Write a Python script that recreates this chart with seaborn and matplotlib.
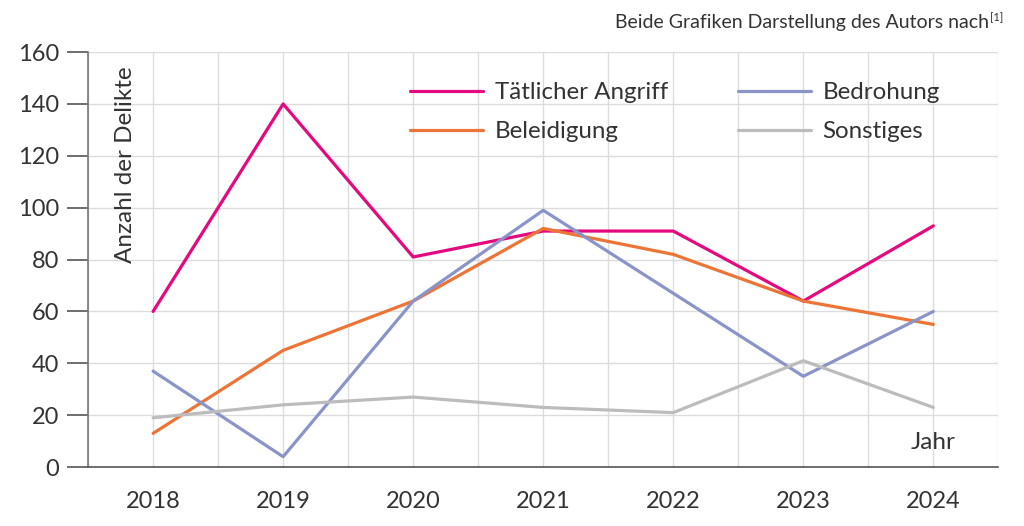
import matplotlib

matplotlib.use("Agg")
import matplotlib.pyplot as plt
import numpy as np
import pandas as pd
import seaborn as sns

years = ["2018", "2019", "2020", "2021", "2022", "2023", "2024"]
taetlicher_angriff = [60, 140, 81, 91, 91, 64, 93]
beleidigung = [13, 45, 64, 92, 82, 64, 55]
bedrohung = [37, 4, 64, 99, 67, 35, 60]
sonstiges = [19, 24, 27, 23, 21, 41, 23]

series = {
    "Tätlicher Angriff": taetlicher_angriff,
    "Beleidigung": beleidigung,
    "Bedrohung": bedrohung,
    "Sonstiges": sonstiges,
}
palette = {
    "Tätlicher Angriff": "#e5097f",
    "Beleidigung": "#ec7436",
    "Bedrohung": "#8b94c9",
    "Sonstiges": "#bcbcbc",
}

rows = []
for name, vals in series.items():
    for i, v in enumerate(vals):
        rows.append({"pos": i, "Jahr": years[i], "Anzahl": v, "Art": name})
df = pd.DataFrame(rows)

sns.set_theme(style="white")
plt.rcParams["font.family"] = ["Lato", "DejaVu Sans"]
text_col = "#333333"

fig = plt.figure(figsize=(10.24, 5.26), dpi=100)
ax = fig.add_axes([0.086, 0.112, 0.889, 0.789])

sns.lineplot(data=df, x="pos", y="Anzahl", hue="Art", palette=palette,
             hue_order=list(series.keys()), lw=2.3, ax=ax, legend=True)

n = len(years)
ax.set_xlim(-0.5, n - 0.5)
ax.set_ylim(0, 160)
ax.set_yticks(np.arange(0, 161, 20))
ax.set_xticks(np.arange(n))
ax.set_xticklabels(years)
ax.set_xticks(np.arange(-0.5, n, 1.0), minor=True)

ax.grid(True, which="both", color="#dcdcdc", lw=1)
ax.set_axisbelow(True)
ax.tick_params(axis="x", which="major", length=0, pad=17, labelsize=17, labelcolor=text_col)
ax.tick_params(axis="x", which="minor", length=15, width=1.2, color="#555555", direction="out")
ax.tick_params(axis="y", length=15, width=1.2, color="#555555", labelsize=17,
               labelcolor=text_col, pad=6, left=True)

for s in ["top", "right"]:
    ax.spines[s].set_visible(False)
ax.spines["left"].set_color("#777777")
ax.spines["left"].set_linewidth(1.2)
ax.spines["bottom"].set_color("#555555")
ax.spines["bottom"].set_linewidth(1.2)

ax.set_xlabel("")
ax.set_ylabel("")
ax.text(0.03, 0.965, "Anzahl der Delikte", transform=ax.transAxes, rotation=90,
        ha="left", va="top", fontsize=17.5, color=text_col)
ax.text(6.0, 5.5, "Jahr", ha="center", va="bottom", fontsize=17.5, color=text_col)

handles, labels = ax.get_legend_handles_labels()
ax.legend(handles, labels, ncol=2, frameon=False, loc="upper left",
          bbox_to_anchor=(0.33, 0.98), fontsize=17.4, handlelength=3.0,
          handletextpad=0.5, columnspacing=2.9, labelspacing=0.75,
          labelcolor=text_col)

fig.text(0.966, 0.957, "Beide Grafiken Darstellung des Autors nach", ha="right",
         va="center", fontsize=14, color=text_col)
fig.text(0.967, 0.967, "[1]", ha="left", va="center", fontsize=8, color=text_col)

fig.savefig("out.png", dpi=100)
